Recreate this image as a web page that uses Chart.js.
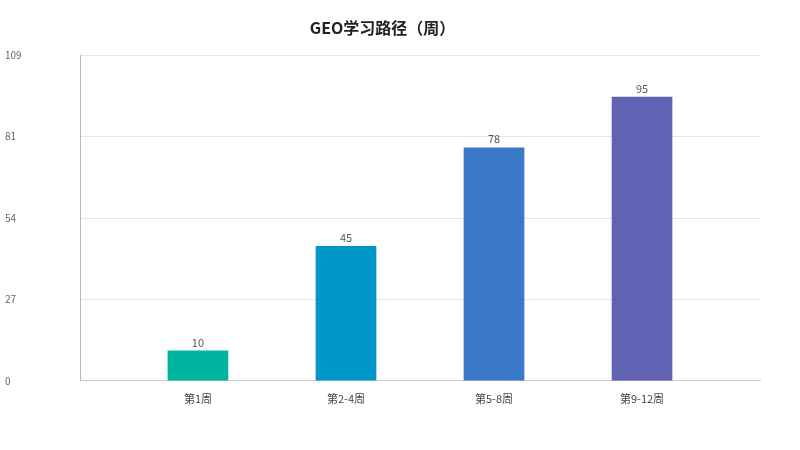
<!DOCTYPE html>
<html><head><meta charset="utf-8">
<script src="https://cdn.jsdelivr.net/npm/chart.js@4"></script>
<style>body{margin:0;background:#fff}#w{width:800px;height:450px}</style>
</head><body><div id="w"><canvas id="c"></canvas></div>
<script>
const categories = ['第1周','第2-4周','第5-8周','第9-12周'];
const values = [10,45,78,95];
const colors = ['#00b5a0','#0096c8','#3a78c8','#6262b4'];
const yTicks = [0,27.25,54.5,81.75,109];
const labelPlugin = {id:'lbl',afterDatasetsDraw(ch){const ctx=ch.ctx;const m=ch.getDatasetMeta(0);ctx.save();ctx.font='11px "Noto Sans CJK SC", sans-serif';ctx.fillStyle='#555';ctx.textAlign='center';ctx.textBaseline='bottom';m.data.forEach((b,i)=>ctx.fillText(values[i],b.x,b.y-3));ctx.restore();}};
new Chart(document.getElementById('c'),{type:'bar',
data:{datasets:[{data:values.map((v,i)=>({x:i,y:v})),backgroundColor:colors,barThickness:60}]},
options:{responsive:true,maintainAspectRatio:false,animation:false,
layout:{padding:{left:5,right:40,bottom:42,top:2}},
plugins:{legend:{display:false},tooltip:{enabled:false},
title:{display:true,text:'GEO学习路径（周）',color:'#222',font:{size:16,weight:'bold',family:'"Noto Sans CJK SC", sans-serif'},padding:{top:16,bottom:18}}},
scales:{
x:{type:'linear',min:-0.797,max:3.797,offset:false,grid:{display:false},border:{color:'#ccc'},
afterBuildTicks(s){s.ticks=categories.map((c,i)=>({value:i}));},
ticks:{color:'#444',font:{size:11,family:'"Noto Sans CJK SC", sans-serif'},callback:v=>categories[v]}},
y:{min:0,max:109,afterFit(s){s.width=75;},afterBuildTicks(s){s.ticks=yTicks.map(v=>({value:v}));},
grid:{color:'#e6e6e6',drawTicks:false},border:{color:'#bbb'},
ticks:{crossAlign:'far',padding:8,color:'#666',font:{size:10,family:'"Noto Sans CJK SC", sans-serif'},callback:v=>Math.floor(v)}}}},
plugins:[labelPlugin]});
</script></body></html>
